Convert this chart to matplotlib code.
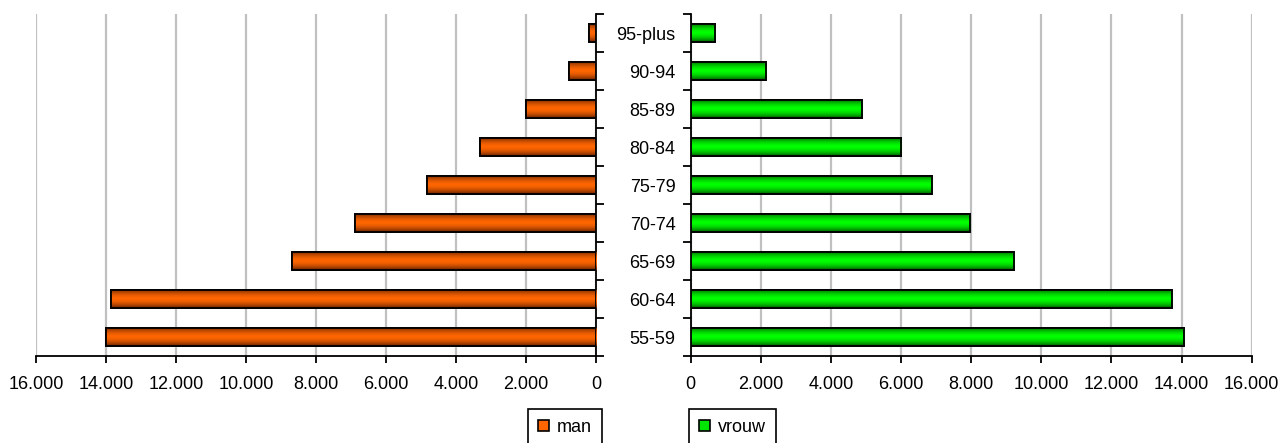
import numpy as np
import matplotlib
matplotlib.use("Agg")
import matplotlib.pyplot as plt
from matplotlib.patches import Rectangle
from matplotlib.ticker import FuncFormatter, FixedLocator
from matplotlib.colors import to_rgb

# ---- data ----
categories = ["55-59", "60-64", "65-69", "70-74", "75-79", "80-84", "85-89", "90-94", "95-plus"]
man = [14000, 13860, 8690, 6880, 4820, 3310, 1990, 770, 190]
vrouw = [14070, 13720, 9230, 7960, 6890, 6000, 4890, 2140, 690]
xticks = [0, 2000, 4000, 6000, 8000, 10000, 12000, 14000, 16000]

plt.rcParams['font.family'] = ['Liberation Sans', 'DejaVu Sans']
FS = 13

W, H = 1281, 443
fig = plt.figure(figsize=(W / 100, H / 100), dpi=100)

def fx(px):
    return px / W

def fy(py):
    return 1 - py / H

top, bottom = 14, 356
axL = fig.add_axes([fx(36), fy(bottom), fx(596) - fx(36), fy(top) - fy(bottom)])
axR = fig.add_axes([fx(690.7), fy(bottom), fx(1251.7) - fx(690.7), fy(top) - fy(bottom)])

fmt = FuncFormatter(lambda v, p: f"{int(v):,}".replace(",", "."))
y = np.arange(len(categories))
bh = 0.48


def gradient_bars(ax, vals, center, edge):
    bars = ax.barh(y, vals, height=bh, color=center, edgecolor='black', linewidth=1.3, zorder=3)
    c = np.array(to_rgb(center))
    e = np.array(to_rgb(edge))
    t = np.linspace(0, 1, 64)
    w = np.clip(1 - np.abs(2 * t - 1) ** 1.6, 0, 1) ** 0.8
    img = e[None, :] + (c - e)[None, :] * w[:, None]
    img = img[:, None, :]
    for b in bars:
        x0, y0 = b.get_x(), b.get_y()
        x1, y1 = x0 + b.get_width(), y0 + b.get_height()
        im = ax.imshow(img, extent=(x0, x1, y0, y1), aspect='auto', zorder=3.5,
                       interpolation='bilinear', origin='upper')
        im.set_clip_path(b)
        ax.add_patch(Rectangle((x0, y0), b.get_width(), b.get_height(), fill=False,
                               edgecolor='black', linewidth=1.3, zorder=4))
    return bars


gradient_bars(axL, man, '#FF6600', '#5A1E00')
gradient_bars(axR, vrouw, '#00FF00', '#004A00')

for ax in (axL, axR):
    ax.set_ylim(-0.5, len(categories) - 0.5)
    ax.set_xticks(xticks)
    ax.xaxis.set_major_formatter(fmt)
    ax.grid(axis='x', color='#C0C0C0', linewidth=1.6, zorder=0)
    ax.set_axisbelow(True)
    ax.spines['top'].set_visible(False)
    ax.tick_params(axis='x', direction='out', length=5, width=1.3, labelsize=FS, pad=9.5, colors='black')
    ax.spines['bottom'].set_linewidth(1.3)
    ax.yaxis.set_major_locator(FixedLocator(np.arange(-0.5, len(categories), 1.0)))
    ax.yaxis.set_major_formatter(FuncFormatter(lambda v, p: ""))

axL.set_xlim(16000, 0)
axR.set_xlim(0, 16000)

axL.spines['left'].set_visible(False)
axL.spines['right'].set_linewidth(1.3)
axL.yaxis.tick_right()
axL.tick_params(axis='y', which='major', direction='out', length=6, width=1.3)

axR.spines['right'].set_visible(False)
axR.spines['left'].set_linewidth(1.3)
axR.tick_params(axis='y', which='major', direction='out', length=6, width=1.3)
axR.set_yticks(y, minor=True)
axR.set_yticklabels(categories, minor=True, fontsize=FS)
axR.tick_params(axis='y', which='minor', length=0, pad=11)

# legends
hm = Rectangle((0, 0), 1, 1, facecolor='#FF6600', edgecolor='black', linewidth=1.2)
hv = Rectangle((0, 0), 1, 1, facecolor='#00E600', edgecolor='black', linewidth=1.2)
common = dict(loc='upper left', borderaxespad=0, fontsize=FS, fancybox=False,
              handlelength=0.6, handleheight=0.6, handletextpad=0.45, borderpad=0.55,
              framealpha=1, edgecolor='black')
l1 = fig.legend([hm], ['man'], bbox_to_anchor=(fx(528), fy(409)), **common)
l2 = fig.legend([hv], ['vrouw'], bbox_to_anchor=(fx(689), fy(409)), **common)
for l in (l1, l2):
    l.get_frame().set_linewidth(1.2)

fig.savefig('out.png', dpi=100)
